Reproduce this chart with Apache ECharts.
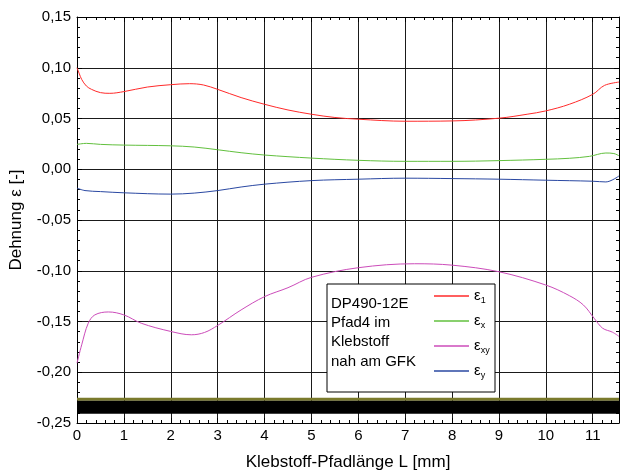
<!DOCTYPE html>
<html>
<head>
<meta charset="utf-8">
<style>html,body{margin:0;padding:0;background:#fff}#c{width:622px;height:476px}</style>
<script src="https://cdn.jsdelivr.net/npm/echarts@6/dist/echarts.min.js"></script>
</head>
<body>
<div id="c"></div>
<script>
// ε1 (red)
const e1X = [0, 0.05, 0.1, 0.2, 0.31, 0.5, 0.7, 1.0, 1.5, 2.0, 2.4, 2.7, 3.0, 3.5, 4.0, 4.5, 5.0, 5.5, 6.0, 7.0, 8.0, 9.0, 9.6, 10.0, 10.5, 11.0, 11.25, 11.56];
const e1Y = [0.100, 0.094, 0.0885, 0.082, 0.0787, 0.0755, 0.0748, 0.0765, 0.081, 0.0833, 0.0843, 0.083, 0.0787, 0.0706, 0.064, 0.0584, 0.0542, 0.051, 0.0493, 0.0473, 0.0476, 0.0503, 0.0542, 0.0575, 0.064, 0.0738, 0.0826, 0.0859];
// εx (green)
const exX = [0, 0.2, 0.5, 1, 2, 2.5, 3, 3.5, 4, 5, 6, 7, 8, 9, 10, 10.5, 10.93, 11.28, 11.45, 11.56];
const exY = [0.0245, 0.0255, 0.0245, 0.0238, 0.0231, 0.0219, 0.0192, 0.0163, 0.014, 0.011, 0.0088, 0.0078, 0.0078, 0.0085, 0.0098, 0.0108, 0.0127, 0.016, 0.0155, 0.0133];
// εxy (magenta)
const exyX = [0, 0.1, 0.24, 0.38, 0.67, 1.0, 1.37, 2.0, 2.44, 2.72, 3.0, 3.5, 4.0, 4.5, 5.0, 6.0, 7.2, 8.0, 9.0, 10.0, 10.5, 10.8, 11.03, 11.21, 11.42, 11.56];
const exyY = [-0.191, -0.173, -0.1517, -0.1435, -0.1406, -0.1435, -0.1517, -0.1598, -0.1631, -0.1608, -0.1539, -0.1386, -0.1255, -0.1167, -0.1065, -0.097, -0.0931, -0.0945, -0.101, -0.1141, -0.1245, -0.1337, -0.1468, -0.1566, -0.1605, -0.1647];
// εy (blue)
const eyX = [0, 0.17, 0.5, 1, 2, 2.5, 3, 3.5, 4, 5, 6, 7, 8, 9, 10, 11, 11.28, 11.56];
const eyY = [-0.0186, -0.021, -0.022, -0.0232, -0.0245, -0.0235, -0.021, -0.0175, -0.0147, -0.0112, -0.0098, -0.0088, -0.0092, -0.0098, -0.0108, -0.0118, -0.0125, -0.0066];

const seriesNames = ['ε1', 'εx', 'εxy', 'εy'];
const seriesSub = ['1', 'x', 'xy', 'y'];
const noteLines = ['DP490-12E', 'Pfad4 im', 'Klebstoff', 'nah am GFK'];
// GFK layer bands (strain units)
const oliveBand = [-0.2252, -0.2281];
const blackBand = [-0.2281, -0.2409];

const xMin = 0, xMax = 11.56, xStep = 1;
const yMin = -0.25, yMax = 0.15, yStep = 0.05;

const pairs = (xs, ys) => xs.map((x, i) => [x, ys[i]]);
const font = 'Liberation Sans, Arial, sans-serif';

const chart = echarts.init(document.getElementById('c'));
const axisCommon = {
  type: 'value',
  axisLine: { show: true, onZero: false, lineStyle: { color: '#000', width: 1 } },
  axisTick: { show: true, inside: true, length: 5, lineStyle: { color: '#000' } },
  minorTick: { show: true, splitNumber: 5, length: 3, lineStyle: { color: '#000' } },
};
const line = (name, data, color) => ({
  name, type: 'line', data, smooth: 0.35, symbol: 'none', z: 3,
  lineStyle: { color, width: 1 }, itemStyle: { color }
});

chart.setOption({
  animation: false,
  backgroundColor: '#fff',
  grid: { left: 75, right: 1, top: 17, bottom: 51 },
  xAxis: [
    Object.assign({}, axisCommon, {
      position: 'bottom', min: xMin, max: xMax, interval: xStep,
      name: 'Klebstoff-Pfadlänge L [mm]', nameLocation: 'middle', nameGap: 31,
      nameTextStyle: { fontFamily: font, fontSize: 17, color: '#000' },
      axisLabel: { fontFamily: font, fontSize: 15, color: '#000', margin: 5,
        formatter: v => Math.abs(v - Math.round(v)) < 1e-6 ? String(Math.round(v)) : '' },
      splitLine: { show: true, lineStyle: { color: '#1a1a1a', width: 1 } }
    }),
    Object.assign({}, axisCommon, {
      position: 'top', min: xMin, max: xMax, interval: xStep,
      axisLabel: { show: false }, splitLine: { show: false }
    })
  ],
  yAxis: [
    Object.assign({}, axisCommon, {
      position: 'left', min: yMin, max: yMax, interval: yStep,
      name: 'Dehnung ε [-]', nameLocation: 'middle', nameGap: 52,
      nameTextStyle: { fontFamily: font, fontSize: 17, color: '#000' },
      axisLabel: { fontFamily: font, fontSize: 15, color: '#000', margin: 6,
        formatter: v => v.toFixed(2).replace('.', ',') },
      splitLine: { show: true, lineStyle: { color: '#1a1a1a', width: 1 } }
    }),
    Object.assign({}, axisCommon, {
      position: 'right', min: yMin, max: yMax, interval: yStep,
      axisLabel: { show: false }, splitLine: { show: false }
    })
  ],
  legend: {
    data: seriesNames,
    orient: 'vertical', left: 429, top: 282,
    icon: 'rect', itemWidth: 35, itemHeight: 1.5, itemGap: 7,
    z: 6,
    formatter: n => '{e|ε}{s|' + seriesSub[seriesNames.indexOf(n)] + '}',
    textStyle: {
      color: '#000',
      rich: {
        e: { fontFamily: font, fontSize: 15, color: '#000', lineHeight: 20 },
        s: { fontFamily: font, fontSize: 9, color: '#000', lineHeight: 20, padding: [9, 0, 0, 0] }
      }
    }
  },
  graphic: [
    { type: 'rect', z: 5, shape: { x: 327, y: 284, width: 168, height: 108 },
      style: { fill: '#fff', stroke: '#000', lineWidth: 1 } },
    { type: 'text', z: 6, left: 331, top: 294,
      style: { text: noteLines.join('\n'), font: '15px ' + font, fill: '#000', lineHeight: 19.3 } }
  ],
  series: [
    {
      name: 'GFK', type: 'line', data: [], symbol: 'none', silent: true, z: 2,
      markArea: { silent: true, data: [
        [{ yAxis: oliveBand[0], itemStyle: { color: '#7a7a2c', opacity: 1 } }, { yAxis: oliveBand[1] }],
        [{ yAxis: blackBand[0], itemStyle: { color: '#000', opacity: 1 } }, { yAxis: blackBand[1] }]
      ] }
    },
    line('ε1', pairs(e1X, e1Y), '#ff2a2a'),
    line('εx', pairs(exX, exY), '#62c03e'),
    line('εxy', pairs(exyX, exyY), '#cc4cba'),
    line('εy', pairs(eyX, eyY), '#2a48a2')
  ]
});
</script>
</body>
</html>
